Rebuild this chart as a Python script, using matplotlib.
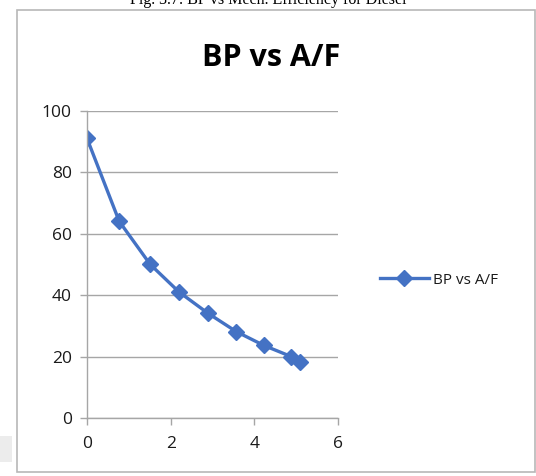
import matplotlib
matplotlib.use("Agg")
import matplotlib.pyplot as plt
from matplotlib.patches import Rectangle

# data
af = [0.0, 0.77, 1.51, 2.2, 2.89, 3.57, 4.23, 4.88, 5.08]
bp = [91, 64, 50, 41, 34.1, 28.1, 23.6, 20.0, 18.1]
xticks = [0, 2, 4, 6]
yticks = [0, 20, 40, 60, 80, 100]
series_name = "BP vs A/F"
title = "BP vs A/F"
caption = "Fig. 3.7: BP vs Mech. Efficiency for Diesel"

W, H = 536, 476
fig = plt.figure(figsize=(W / 100, H / 100), dpi=100)
fig.patch.set_facecolor("white")

# caption of the page, cut off by the top edge as in the scan
fig.text(0.5, 1 - 4 / H, caption, ha="center", va="baseline",
         fontsize=11.5, family="Liberation Serif", color="black")

# chart frame and faint grey block on the left
fig.patches.append(Rectangle((17 / W, 1 - 472 / H), (535 - 17) / W, (472 - 10) / H,
                             transform=fig.transFigure, fill=False,
                             edgecolor="#b8b8b8", linewidth=1.2))
fig.patches.append(Rectangle((0, 1 - 462 / H), 12 / W, 26 / H,
                             transform=fig.transFigure, facecolor="#ececec",
                             edgecolor="none"))

ax = fig.add_axes([87 / W, 1 - 418 / H, (338 - 87) / W, (418 - 110.7) / H])
ax.plot(af, bp, color="#4472C4", linewidth=2.4, marker="D", markersize=8,
        label=series_name)

ax.set_xlim(0, 6)
ax.set_ylim(0, 100)
ax.set_xticks(xticks)
ax.set_yticks(yticks)
ax.grid(axis="y", color="#a6a6a6", linewidth=1.0)
ax.set_axisbelow(True)

for s in ["top", "right"]:
    ax.spines[s].set_visible(False)
for s in ["left", "bottom"]:
    ax.spines[s].set_color("#a6a6a6")
    ax.spines[s].set_linewidth(1.0)

ax.tick_params(axis="both", colors="#a6a6a6", labelcolor="#1a1a1a",
               labelsize=12.5, length=5, width=1.0)
ax.tick_params(axis="x", pad=8)
ax.tick_params(axis="y", pad=6)
for lab in ax.get_xticklabels() + ax.get_yticklabels():
    lab.set_family("Open Sans")

fig.text(271 / W, 1 - 58 / H, title, ha="center", va="center",
         fontsize=22, fontweight="bold", family="Open Sans", color="black")

fig.legend(loc="center left", bbox_to_anchor=(366 / W, 1 - 280 / H),
           frameon=False, prop={"family": "Open Sans", "size": 11},
           handlelength=3.2, handletextpad=0.3, labelcolor="#1a1a1a")

fig.savefig("out.png", dpi=100)
